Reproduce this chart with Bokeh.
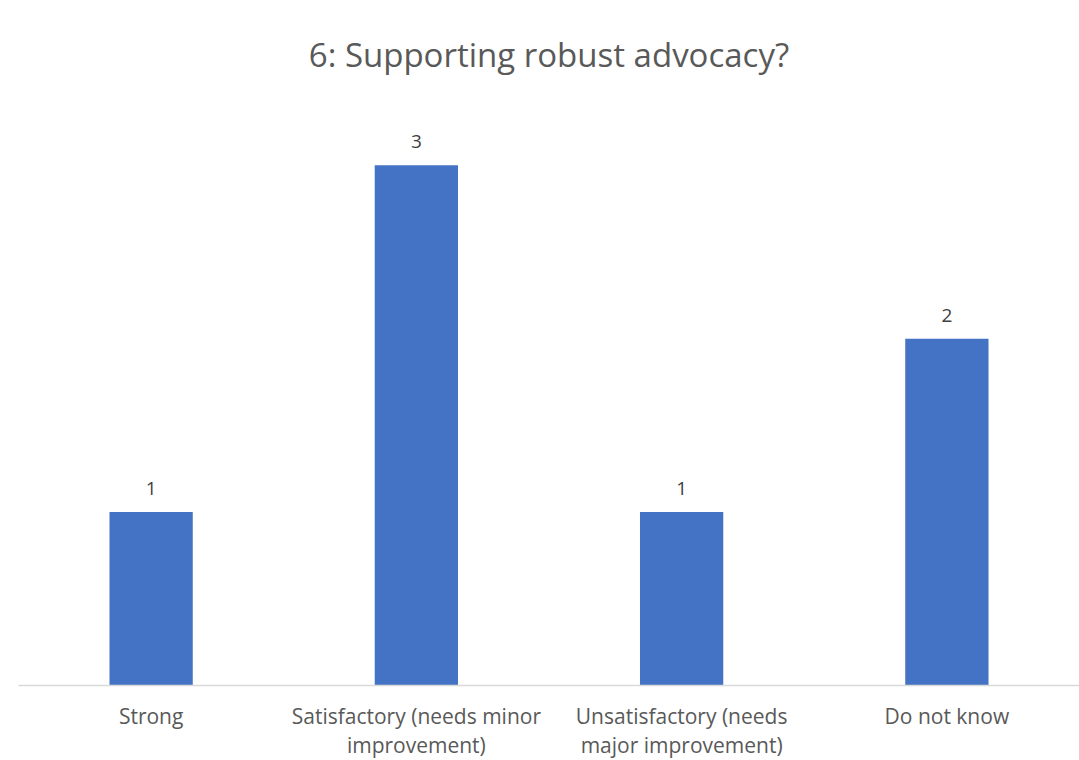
from bokeh.plotting import figure
from bokeh.models import ColumnDataSource, FactorRange, Range1d, Title
from bokeh.core.properties import value
from bokeh.embed import file_html
from bokeh.resources import INLINE

categories = ["Strong", "Satisfactory (needs minor\nimprovement)",
              "Unsatisfactory (needs\nmajor improvement)", "Do not know"]
counts = [1, 3, 1, 2]
labels = [str(c) for c in counts]
title_text = "6: Supporting robust advocacy?"

src = ColumnDataSource(dict(cat=categories, val=counts, lab=labels))

p = figure(x_range=FactorRange(*categories), y_range=Range1d(0, 3.5),
           output_backend="svg", toolbar_location=None,
           frame_width=1061, frame_height=607,
           min_border_left=18, min_border_right=0,
           min_border_top=78, min_border_bottom=75)

p.vbar(x="cat", top="val", width=0.314, source=src,
       fill_color="#4472C4", line_color=None)
p.text(x="cat", y="val", text="lab", source=src,
       text_align="center", text_baseline="bottom", y_offset=-17,
       text_font=value("Open Sans"), text_font_size="19px", text_color="#404040")

title = Title(text=title_text, align="center", vertical_align="top", standoff=0,
              text_font="Open Sans", text_font_size="33px",
              text_font_style="normal", text_color="#595959")
p.add_layout(title, "above")
# invisible spacer between the title and the plot frame
spacer = Title(text="\u200b", text_font_size="10px", text_alpha=0, standoff=13)
p.add_layout(spacer, "above")

p.yaxis.visible = False
p.xgrid.grid_line_color = None
p.ygrid.grid_line_color = None
p.outline_line_color = None
p.xaxis.axis_line_color = "#D9D9D9"
p.xaxis.axis_line_width = 1.5
p.xaxis.major_tick_line_color = None
p.xaxis.minor_tick_line_color = None
p.xaxis.major_label_text_font = "Open Sans"
p.xaxis.major_label_text_font_size = "21px"
p.xaxis.major_label_text_color = "#595959"
p.xaxis.major_label_text_line_height = 1.05
p.xaxis.major_label_standoff = 10
p.x_range.range_padding = 0

open("out.html", "w").write(file_html(p, INLINE))
